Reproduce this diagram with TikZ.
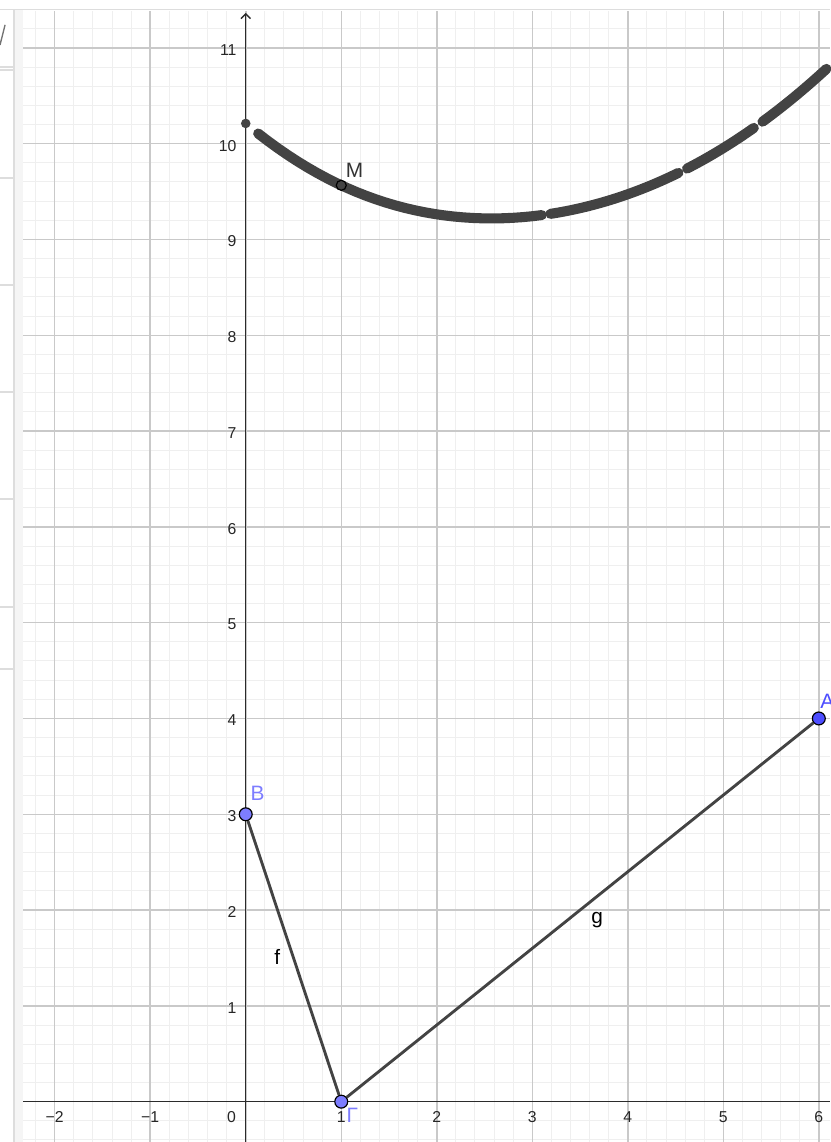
\documentclass[tikz,border=0pt]{standalone}
\usepackage{fontspec}
\setmainfont{Liberation Sans}
\usetikzlibrary{arrows.meta}

\definecolor{gridminor}{HTML}{EFEFEF}
\definecolor{gridmajor}{HTML}{C9C9C9}
\definecolor{axiscol}{HTML}{2B2B2B}
\definecolor{segcol}{HTML}{434343}
\definecolor{onpath}{HTML}{7D7DFF}
\definecolor{freepoint}{HTML}{4D4DFF}
\definecolor{panelline}{HTML}{DDDDDD}
\definecolor{panelband}{HTML}{F5F5F5}

\begin{document}
\begin{tikzpicture}[
  x=1cm, y=1.003cm,
  declare function={pathlen(\t)=sqrt(\t*\t+9)+sqrt((\t-6)*(\t-6)+16);},
  ticklbl/.style={font=\fontsize{4.7}{5}\selectfont, text=black!85, inner sep=0pt},
  ptlbl/.style={font=\fontsize{6.2}{7}\selectfont, inner sep=0pt},
  pathpt/.style={circle, draw=black, line width=0.35pt, fill=onpath,
    inner sep=0pt, minimum size=1.35mm},
  freept/.style={pathpt, fill=freepoint},
  locpt/.style={pathpt, fill=segcol, minimum size=1.05mm},
  seg/.style={draw=segcol, line width=0.85pt},
  locus/.style={draw=segcol, line width=3pt, line cap=round},
  axis/.style={draw=axiscol, line width=0.4pt}
]
\useasboundingbox (-2.573,-0.421) rectangle (6.118,11.50);

% side panel
\fill[panelband] (-2.416,-0.421) rectangle (-2.332,11.40);
\draw[panelline, line width=0.4pt] (-2.426,-0.421) -- (-2.426,11.40);
\foreach \y in {10.80,10.77,9.643,8.526,7.409,6.292,5.164,4.517}
  \draw[panelline, line width=0.4pt] (-2.573,\y) -- (-2.426,\y);
\draw[black!55, line width=0.4pt] (-2.573,11.03) -- (-2.52,11.24);
\draw[panelline, line width=0.5pt] (-2.573,11.40) -- (6.118,11.40);

% grid
\begin{scope}
  \clip (-2.332,-0.421) rectangle (6.118,11.39);
  \foreach \i in {-12,...,31}
    \draw[gridminor, line width=0.3pt] (\i/5,-0.421) -- (\i/5,11.39);
  \foreach \j in {-2,...,57}
    \draw[gridminor, line width=0.3pt] (-2.332,\j/5) -- (6.118,\j/5);
  \foreach \i in {-2,...,6}
    \draw[gridmajor, line width=0.45pt] (\i,-0.421) -- (\i,11.39);
  \foreach \j in {1,...,11}
    \draw[gridmajor, line width=0.45pt] (-2.332,\j) -- (6.118,\j);
\end{scope}

% axes
\draw[axis] (-2.332,0) -- (6.118,0);
\draw[axis, -{Straight Barb[length=0.5mm, width=1mm]}] (0,-0.421) -- (0,11.365);
\foreach \j in {1,...,11}
  \node[ticklbl, anchor=east] (ylbl\j) at (-0.09,\j-0.02) {\j};
\foreach \i/\txt in {-2/{−2},-1/{−1},1/1,2/2,3/3,4/4,5/5,6/6}
  \node[ticklbl] (xlbl\i) at (\i,-0.16) {\txt};
\node[ticklbl] (xlbl0) at (-0.15,-0.16) {0};

% locus of M
\foreach \a/\b in {0.13/3.10, 3.19/4.53, 4.62/5.32, 5.41/6.08}
  \draw[locus] plot[domain=\a:\b, samples=30] (\x,{pathlen(\x)});
\fill[segcol] (0,{pathlen(0)}) circle (0.05);

% points and segments
\node[pathpt] (B) at (0,3) {};
\node[pathpt] (G) at (1,0) {};
\node[freept] (A) at (6,4) {};
\node[locpt] (M) at (1,{pathlen(1)}) {};

\draw[seg] (B) -- (G);
\draw[seg] (G) -- (A);

\node[ptlbl, text=onpath] (Blbl) at (0.125,3.22) {B};
\node[ptlbl, text=onpath] (Glbl) at (1.115,-0.145) {Γ};
\node[ptlbl, text=freepoint] (Albl) at (6.09,4.18) {A};
\node[ptlbl, text=black!80] (Mlbl) at (1.14,9.72) {M};
\node[ptlbl, text=black] (flbl) at (0.33,1.51) {f};
\node[ptlbl, text=black] (glbl) at (3.68,1.90) {g};

\end{tikzpicture}
\end{document}
